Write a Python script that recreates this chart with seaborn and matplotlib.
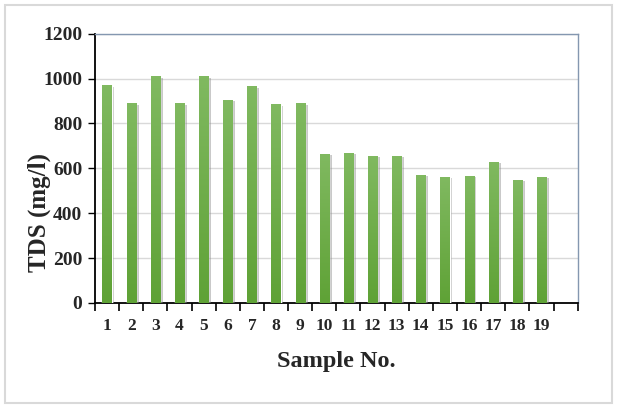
import numpy as np
import pandas as pd
import matplotlib
matplotlib.use("Agg")
import matplotlib.pyplot as plt
import matplotlib.patheffects as pe
from matplotlib.patches import Rectangle
import seaborn as sns

# TDS per sample
samples = [str(i) for i in range(1, 20)]
tds = [970, 890, 1010, 890, 1010, 905, 965, 885, 890,
       665, 670, 655, 655, 572, 562, 567, 630, 550, 562]
# one empty slot after sample 19, as in the original
slots = samples + [""]
y_ticks = [0, 200, 400, 600, 800, 1000, 1200]

df = pd.DataFrame({"Sample": samples, "TDS": tds})

sns.set_theme(style="white")
plt.rcParams["font.family"] = ["Liberation Serif", "DejaVu Serif"]
plt.rcParams["font.weight"] = "bold"

fig = plt.figure(figsize=(6.18, 4.05), dpi=100)
ax = fig.add_axes([0.1537, 0.2519, 0.7811, 0.6649])

sns.barplot(data=df, x="Sample", y="TDS", order=slots, color="#6eab45",
            width=0.38, saturation=1, ax=ax, zorder=3)

# shadow + vertical gradient on each bar
top_c = np.array([0x80, 0xb9, 0x60]) / 255
bot_c = np.array([0x5f, 0xa2, 0x36]) / 255
grad = np.linspace(0, 1, 64)[:, None, None]
img = bot_c * (1 - grad) + top_c * grad
for p in ax.patches:
    p.set_path_effects([pe.SimplePatchShadow(offset=(2, -1), shadow_rgbFace="#888888",
                                             alpha=0.45), pe.Normal()])
    x0, y0 = p.get_x(), p.get_y()
    w, h = p.get_width(), p.get_height()
    if h <= 0:
        continue
    im = ax.imshow(img, extent=(x0, x0 + w, y0, y0 + h), origin="lower",
                   aspect="auto", zorder=4, interpolation="bilinear")
    im.set_clip_path(p)

ax.set_xlim(-0.5, len(slots) - 0.5)
ax.set_ylim(0, 1200)
ax.set_yticks(y_ticks)
ax.set_yticklabels([str(v) for v in y_ticks], fontsize=14, fontweight="bold")
ax.yaxis.grid(True, color="#d9d9d9", linewidth=1, zorder=0)
ax.set_axisbelow(True)

# category labels centered, tick marks at slot boundaries
ax.set_xticks(range(len(slots)))
ax.set_xticklabels(slots, fontsize=12.5, fontweight="bold")
ax.tick_params(axis="x", which="major", length=0, pad=11)
ax.set_xticks(np.arange(-0.5, len(slots)), minor=True)
ax.tick_params(axis="x", which="minor", length=6, width=1.2, color="black",
               direction="out", bottom=True)
ax.tick_params(axis="y", length=5, width=1, color="black", direction="out",
               left=True, pad=4)

ax.set_xlabel("Sample No.", fontsize=17.5, fontweight="bold", labelpad=12)
ax.set_ylabel("TDS (mg/l)", fontsize=18, fontweight="bold")
# the original label sits low and overlaps the tick numbers a little
ax.yaxis.set_label_coords(-0.092, 0.335)

for side in ["left", "bottom"]:
    ax.spines[side].set_color("black")
    ax.spines[side].set_linewidth(1.3)
for side in ["top", "right"]:
    ax.spines[side].set_color("#8497b0")
    ax.spines[side].set_linewidth(1)

fig.patches.append(Rectangle((5 / 618, 2 / 405), 607 / 618, 398 / 405,
                             transform=fig.transFigure, fill=False,
                             edgecolor="#d9d9d9", linewidth=1.5))

fig.savefig("out.png", dpi=100)
